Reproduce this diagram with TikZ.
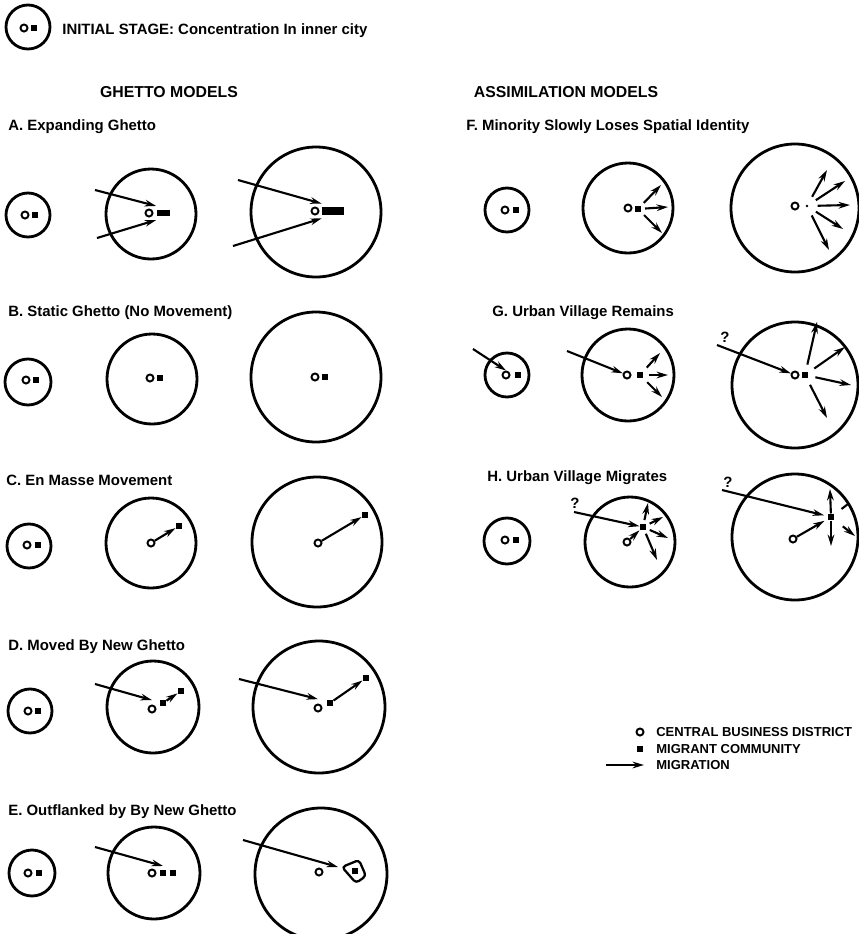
\documentclass[tikz,border=0pt]{standalone}
\usepackage{fontspec}
\setmainfont{Liberation Sans}
\usetikzlibrary{arrows.meta}

\begin{document}
\begin{tikzpicture}[x=0.02cm,y=-0.02cm,>={Stealth[length=6.5pt,width=3.8pt]},
  font=\fontsize{8.5}{10}\selectfont\bfseries,
  city/.style={line width=1.6pt},
  cbd/.style={circle,draw,line width=1.1pt,inner sep=0pt,minimum size=4pt},
  mig/.style={rectangle,fill,inner sep=0pt,minimum size=3.6pt},
  migr/.style={->,line width=1.2pt},
  lbl/.style={anchor=west,inner sep=0pt},
  head/.style={inner sep=0pt,font=\fontsize{9}{10}\selectfont\bfseries}]
  \useasboundingbox (0,0) rectangle (859,934);

  % initial stage
  \draw[city] (28,27) circle (22);
  \node[cbd] (i0c) at (24,28) {};
  \node[mig] (i0m) at (34,28) {};
  \node[lbl] (title) at (62,31) {INITIAL STAGE: Concentration In inner city};

  \node[head] (ghetto) at (169,92) {GHETTO MODELS};
  \node[head] (assim) at (566,92) {ASSIMILATION MODELS};

  % A. expanding ghetto
  \node[lbl] (labA) at (8,127) {A. Expanding Ghetto};
  \draw[city] (28,215) circle (22);
  \node[cbd] (a1c) at (25,215) {};
  \node[mig] (a1m) at (35,215) {};
  \draw[city] (151,214) circle (45);
  \node[cbd] (a2c) at (149,213) {};
  \node[mig,minimum width=7.4pt] (a2m) at (163,213) {};
  \coordinate (a2p) at (95,190);
  \coordinate (a2q) at (97,238);
  \draw[migr] (a2p) -- ([yshift=2pt]a2m.north west);
  \draw[migr] (a2q) -- ([yshift=-2pt]a2m.south west);
  \draw[city] (316,212) circle (65);
  \node[cbd] (a3c) at (315,211) {};
  \node[mig,minimum width=12.5pt,minimum height=4pt] (a3m) at (333,211) {};
  \coordinate (a3p) at (238,180);
  \coordinate (a3q) at (233,246);
  \draw[migr] (a3p) -- ([yshift=2pt]a3m.north west);
  \draw[migr] (a3q) -- ([yshift=-2pt]a3m.south west);

  % B. static ghetto
  \node[lbl] (labB) at (8,313) {B. Static Ghetto (No Movement)};
  \draw[city] (28,382) circle (23);
  \node[cbd] (b1c) at (26,380) {};
  \node[mig] (b1m) at (36,380) {};
  \draw[city] (152,379) circle (45);
  \node[cbd] (b2c) at (150,378) {};
  \node[mig] (b2m) at (160,378) {};
  \draw[city] (316,377) circle (65);
  \node[cbd] (b3c) at (315,377) {};
  \node[mig] (b3m) at (325,377) {};

  % C. en masse movement
  \node[lbl] (labC) at (6,480) {C. En Masse Movement};
  \draw[city] (29,546) circle (22);
  \node[cbd] (c1c) at (27,545) {};
  \node[mig] (c1m) at (38,545) {};
  \draw[city] (151,543) circle (45);
  \node[cbd] (c2c) at (151,543) {};
  \node[mig] (c2m) at (179,526) {};
  \draw[migr] (c2c) -- (c2m);
  \draw[city] (317,542) circle (65);
  \node[cbd] (c3c) at (318,543) {};
  \node[mig] (c3m) at (365,515) {};
  \draw[migr] (c3c) -- (c3m);

  % D. moved by new ghetto
  \node[lbl] (labD) at (8,647) {D. Moved By New Ghetto};
  \draw[city] (30,711) circle (22);
  \node[cbd] (d1c) at (28,711) {};
  \node[mig] (d1m) at (38,711) {};
  \draw[city] (153,707) circle (46);
  \node[cbd] (d2c) at (152,709) {};
  \node[mig] (d2m) at (163,703) {};
  \node[mig] (d2n) at (181,691) {};
  \coordinate (d2p) at (95,684);
  \draw[migr] (d2p) -- ([yshift=2.5pt]d2c.north);
  \draw[migr] (d2m) -- (d2n);
  \draw[city] (319,707) circle (66);
  \node[cbd] (d3c) at (318,708) {};
  \node[mig] (d3m) at (330,703) {};
  \node[mig] (d3n) at (366,678) {};
  \coordinate (d3p) at (239,679);
  \draw[migr] (d3p) -- ([yshift=2.5pt]d3c.north);
  \draw[migr] (d3m) -- (d3n);

  % E. outflanked
  \node[lbl] (labE) at (8,812) {E. Outflanked by By New Ghetto};
  \draw[city] (32,873) circle (23);
  \node[cbd] (e1c) at (28,873) {};
  \node[mig] (e1m) at (39,873) {};
  \draw[city] (154,873) circle (46);
  \node[cbd] (e2c) at (152,873) {};
  \node[mig] (e2m) at (163,873) {};
  \node[mig] (e2n) at (173,873) {};
  \coordinate (e2p) at (95,847);
  \draw[migr] (e2p) -- ([yshift=2pt]e2m.north);
  \draw[city] (321,874) circle (66);
  \node[cbd] (e3c) at (319,872) {};
  \node[mig] (e3m) at (355,871) {};
  \draw[line width=1.3pt,rounded corners=2pt] (342,867) -- (359,860) -- (366,876) -- (356,883) -- cycle;
  \coordinate (e3p) at (243,840);
  \coordinate (e3r) at (338,867);
  \draw[migr] (e3p) -- (e3r);

  % F. minority slowly loses spatial identity
  \node[lbl] (labF) at (466,127) {F. Minority Slowly Loses Spatial Identity};
  \draw[city] (507,210) circle (22);
  \node[cbd] (f1c) at (505,210) {};
  \node[mig] (f1m) at (516,210) {};
  \draw[city] (628,208) circle (45);
  \node[cbd] (f2c) at (628,208) {};
  \node[mig] (f2m) at (638,209) {};
  \coordinate (f2e1) at (661,185);
  \coordinate (f2e2) at (668,207);
  \coordinate (f2e3) at (662,233);
  \draw[migr,shorten <=2pt] (f2m) -- (f2e1);
  \draw[migr,shorten <=2pt] (f2m) -- (f2e2);
  \draw[migr,shorten <=2pt] (f2m) -- (f2e3);
  \draw[city] (795,208) circle (64);
  \node[cbd] (f3c) at (795,206) {};
  \node[circle,fill,inner sep=0pt,minimum size=1.6pt] (f3d) at (807,206) {};
  \coordinate (f3e1) at (827,170);
  \coordinate (f3e2) at (845,181);
  \coordinate (f3e3) at (850,205);
  \coordinate (f3e4) at (843,229);
  \coordinate (f3e5) at (829,250);
  \draw[migr,shorten <=5pt] (f3d) -- (f3e1);
  \draw[migr,shorten <=5pt] (f3d) -- (f3e2);
  \draw[migr,shorten <=5pt] (f3d) -- (f3e3);
  \draw[migr,shorten <=5pt] (f3d) -- (f3e4);
  \draw[migr,shorten <=5pt] (f3d) -- (f3e5);

  % G. urban village remains
  \node[lbl] (labG) at (492,313) {G. Urban Village Remains};
  \draw[city] (507,375) circle (22);
  \node[cbd] (g1c) at (506,375) {};
  \node[mig] (g1m) at (518,375) {};
  \coordinate (g1p) at (473,349);
  \draw[migr] (g1p) -- (g1c.north);
  \draw[city] (628,375) circle (46);
  \node[cbd] (g2c) at (627,375) {};
  \node[mig] (g2m) at (640,375) {};
  \coordinate (g2p) at (567,351);
  \draw[migr] (g2p) -- (g2c);
  \coordinate (g2e1) at (660,353);
  \coordinate (g2e2) at (668,375);
  \coordinate (g2e3) at (662,397);
  \draw[migr,shorten <=3pt] (g2m) -- (g2e1);
  \draw[migr,shorten <=3pt] (g2m) -- (g2e2);
  \draw[migr,shorten <=3pt] (g2m) -- (g2e3);
  \draw[city] (795,385) circle (63);
  \node[cbd] (g3c) at (795,375) {};
  \node[mig] (g3m) at (805,375) {};
  \node[inner sep=0pt] (g3q) at (725,337) {?};
  \coordinate (g3p) at (717,345);
  \draw[migr] (g3p) -- (g3c);
  \coordinate (g3e1) at (817,322);
  \coordinate (g3e2) at (845,347);
  \coordinate (g3e3) at (851,385);
  \coordinate (g3e4) at (827,418);
  \draw[migr,shorten <=4pt] (g3m) -- (g3e1);
  \draw[migr,shorten <=4pt] (g3m) -- (g3e2);
  \draw[migr,shorten <=4pt] (g3m) -- (g3e3);
  \draw[migr,shorten <=4pt] (g3m) -- (g3e4);

  % H. urban village migrates
  \node[lbl] (labH) at (487,478) {H. Urban Village Migrates};
  \draw[city] (507,541) circle (23);
  \node[cbd] (h1c) at (505,540) {};
  \node[mig] (h1m) at (516,540) {};
  \draw[city] (630,542) circle (45);
  \node[cbd] (h2c) at (627,542) {};
  \node[mig] (h2m) at (643,527) {};
  \node[inner sep=0pt] (h2q) at (575,503) {?};
  \coordinate (h2p) at (574,512);
  \draw[migr] (h2p) -- (h2m);
  \draw[migr] (h2c) -- (h2m);
  \coordinate (h2e1) at (648,503);
  \coordinate (h2e2) at (663,517);
  \coordinate (h2e3) at (668,538);
  \coordinate (h2e4) at (657,560);
  \draw[migr,shorten <=2pt] (h2m) -- (h2e1);
  \draw[migr,shorten <=2pt] (h2m) -- (h2e2);
  \draw[migr,shorten <=2pt] (h2m) -- (h2e3);
  \draw[migr,shorten <=2pt] (h2m) -- (h2e4);
  \draw[city] (795,537) circle (63);
  \node[cbd] (h3c) at (793,539) {};
  \node[mig] (h3m) at (831,517) {};
  \node[inner sep=0pt] (h3q) at (728,482) {?};
  \coordinate (h3p) at (722,490);
  \draw[migr,shorten >=2pt] (h3p) -- (h3m);
  \draw[migr,shorten >=2pt] (h3c) -- (h3m);
  \coordinate (h3e1) at (830,489);
  \coordinate (h3e2) at (831,546);
  \coordinate (h3e3) at (848,504);
  \coordinate (h3e4) at (855,536);
  \draw[migr] (h3m) -- (h3e1);
  \draw[migr] (h3m) -- (h3e2);
  \draw[line width=1.2pt,shorten <=5pt] (h3m) -- (h3e3);
  \draw[migr,shorten <=6pt] (h3m) -- (h3e4);

  % legend
  \node[cbd] (kc) at (640,732) {};
  \node[lbl,font=\fontsize{7.4}{9}\selectfont\bfseries] (kct) at (656,732) {CENTRAL BUSINESS DISTRICT};
  \node[mig] (km) at (640,749) {};
  \node[lbl,font=\fontsize{7.4}{9}\selectfont\bfseries] (kmt) at (656,749) {MIGRANT COMMUNITY};
  \coordinate (ka) at (606,765);
  \coordinate (kb) at (644,765);
  \draw[migr] (ka) -- (kb);
  \node[lbl,font=\fontsize{7.4}{9}\selectfont\bfseries] (kat) at (656,765) {MIGRATION};
\end{tikzpicture}
\end{document}
